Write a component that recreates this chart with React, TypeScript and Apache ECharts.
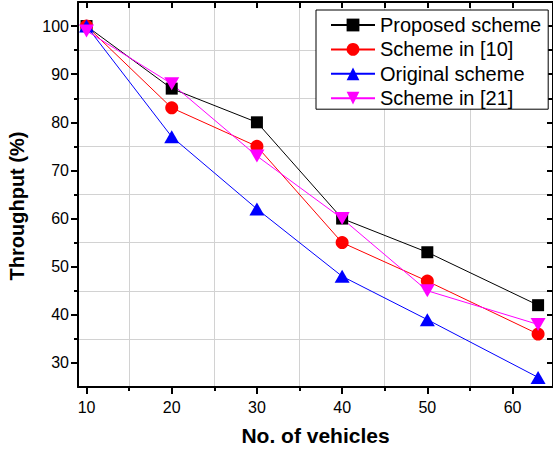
import React, { useEffect, useRef } from "react";
import * as echarts from "echarts";

const vehicles = [10, 20, 30, 40, 50, 63];
const proposed = [100, 87, 80, 60, 53, 42];
const scheme10 = [100, 83, 75, 55, 47, 36];
const original = [100, 77, 62, 48, 39, 27];
const scheme21 = [99, 88, 73, 60, 45, 38];

const xMajorTicks = [10, 20, 30, 40, 50, 60];
const xMinorTicks = [15, 25, 35, 45, 55];
const xAllTicks = [10, 15, 20, 25, 30, 35, 40, 45, 50, 55, 60];
const yMajorTicks = [30, 40, 50, 60, 70, 80, 90, 100];
const yMinorTicks = [35, 45, 55, 65, 75, 85, 95];
const yAllTicks = [30, 35, 40, 45, 50, 55, 60, 65, 70, 75, 80, 85, 90, 95, 100];

const seriesNames = ["Proposed scheme", "Scheme in [10]", "Original scheme", "Scheme in [21]"];
const xTitle = "No. of vehicles";
const yTitle = "Throughput (%)";

const FONT = "'Liberation Sans', Arial, Helvetica, sans-serif";

export default function App() {
  const ref = useRef<HTMLDivElement>(null);
  useEffect(() => {
    if (!ref.current) return;
    const chart = echarts.init(ref.current, null, { renderer: "svg" });
    const pts = (ys: number[]) => vehicles.map((x, i) => [x, ys[i]]);
    const xMin = 9;
    const xMax = 64.75;
    const yMin = 25;
    const yMax = 105;
    const axisLine = { show: true, lineStyle: { color: "#000", width: 2 } };
    const gridLine = { show: true, lineStyle: { color: "#d2d2d2", width: 1, type: "solid" } };
    chart.setOption({
      animation: false,
      backgroundColor: "#fff",
      textStyle: { fontFamily: FONT },
      grid: { left: 78, top: 2, right: 0, bottom: 68, containLabel: false },
      graphic: [
        {
          type: "text",
          x: 17,
          y: 206,
          rotation: Math.PI / 2,
          style: {
            text: yTitle,
            font: `bold 20px ${FONT}`,
            fill: "#000",
            textAlign: "center",
            textVerticalAlign: "middle",
          },
        },
      ],
      xAxis: [
        {
          type: "value",
          position: "bottom",
          min: xMin,
          max: xMax,
          axisLine,
          axisTick: { show: true, customValues: xMajorTicks, length: 7, lineStyle: { color: "#000", width: 2 } },
          axisLabel: { show: true, customValues: xMajorTicks, fontSize: 16, color: "#000", margin: 12, fontFamily: FONT },
          splitLine: { show: false },
          name: xTitle,
          nameLocation: "middle",
          nameGap: 38,
          nameTextStyle: { fontSize: 21, fontWeight: "bold", color: "#000", fontFamily: FONT },
        },
        {
          type: "value",
          position: "bottom",
          min: xMin,
          max: xMax,
          axisLine: { show: false },
          axisTick: { show: true, customValues: xMinorTicks, length: 4, lineStyle: { color: "#000", width: 2 } },
          axisLabel: { show: false },
          splitLine: gridLine,
        },
        {
          type: "value",
          position: "top",
          min: xMin,
          max: xMax,
          axisLine,
          axisTick: { show: true, inside: true, customValues: xAllTicks, length: 6, lineStyle: { color: "#000", width: 2 } },
          axisLabel: { show: false },
          splitLine: { show: false },
        },
      ],
      yAxis: [
        {
          type: "value",
          position: "left",
          min: yMin,
          max: yMax,
          axisLine,
          axisTick: { show: true, customValues: yMajorTicks, length: 7, lineStyle: { color: "#000", width: 2 } },
          axisLabel: { show: true, customValues: yMajorTicks, fontSize: 16, color: "#000", margin: 9, fontFamily: FONT },
          splitLine: { show: false },
        },
        {
          type: "value",
          position: "left",
          min: yMin,
          max: yMax,
          axisLine: { show: false },
          axisTick: { show: true, customValues: yMinorTicks, length: 4, lineStyle: { color: "#000", width: 2 } },
          axisLabel: { show: false },
          splitLine: gridLine,
        },
        {
          type: "value",
          position: "right",
          min: yMin,
          max: yMax,
          axisLine,
          axisTick: { show: true, inside: true, customValues: yAllTicks, length: 6, lineStyle: { color: "#000", width: 2 } },
          axisLabel: { show: false },
          splitLine: { show: false },
        },
      ],
      legend: {
        orient: "vertical",
        left: 316,
        top: 10,
        backgroundColor: "#fff",
        borderColor: "#000",
        borderWidth: 1,
        borderRadius: 0,
        padding: [5, 7, 1, 14],
        itemWidth: 44,
        itemHeight: 16,
        itemGap: 4.4,
        textStyle: { fontSize: 20, color: "#000", fontFamily: FONT },
        data: seriesNames,
      },
      series: [
        {
          name: seriesNames[0],
          type: "line",
          data: pts(proposed),
          symbol: "rect",
          symbolSize: 12,
          lineStyle: { color: "#000", width: 1 },
          itemStyle: { color: "#000" },
        },
        {
          name: seriesNames[1],
          type: "line",
          data: pts(scheme10),
          symbol: "circle",
          symbolSize: 13,
          lineStyle: { color: "#ff0000", width: 1 },
          itemStyle: { color: "#ff0000" },
        },
        {
          name: seriesNames[2],
          type: "line",
          data: pts(original),
          symbol: "triangle",
          symbolSize: [15, 13],
          lineStyle: { color: "#0000ff", width: 1 },
          itemStyle: { color: "#0000ff" },
        },
        {
          name: seriesNames[3],
          type: "line",
          data: pts(scheme21),
          symbol: "path://M0,0L20,0L10,17Z",
          symbolSize: [15, 13],
          lineStyle: { color: "#ff00ff", width: 1 },
          itemStyle: { color: "#ff00ff" },
        },
      ],
    });
    return () => chart.dispose();
  }, []);
  return (
    <div
      ref={ref}
      style={{ position: "fixed", left: 0, top: 0, width: 553, height: 455, background: "#fff" }}
    />
  );
}
